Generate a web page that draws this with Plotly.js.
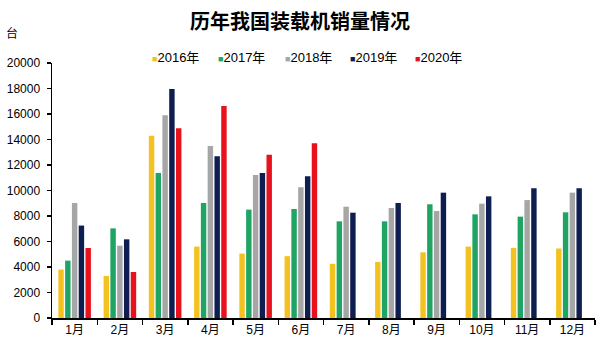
<!DOCTYPE html>
<html><head><meta charset="utf-8">
<script src="https://cdn.plot.ly/plotly-3.0.1.min.js"></script>
<style>html,body{margin:0;padding:0;background:#fff}#chart{width:600px;height:358px}</style>
</head><body><div id="chart"></div>
<script>
const months = ['1月','2月','3月','4月','5月','6月','7月','8月','9月','10月','11月','12月'];
const seriesNames = ['2016年','2017年','2018年','2019年','2020年'];
const s2016 = [3800, 3300, 14300, 5600, 5050, 4850, 4250, 4400, 5150, 5600, 5500, 5450];
const s2017 = [4500, 7030, 11370, 9020, 8500, 8550, 7580, 7580, 8920, 8130, 7950, 8290];
const s2018 = [9020, 5670, 15900, 13490, 11220, 10250, 8730, 8630, 8390, 8970, 9250, 9830];
const s2019 = [7250, 6170, 17960, 12680, 11370, 11110, 8260, 9020, 9830, 9540, 10170, 10170];
const s2020 = [5490, 3610, 14880, 16630, 12810, 13700, null, null, null, null, null, null];
const colors = ['#F3C221', '#1FA463', '#A6A6A6', '#0E1E50', '#E8121C'];
const allSeries = [s2016, s2017, s2018, s2019, s2020];

const traces = allSeries.map((vals, i) => ({
  type: 'bar', name: seriesNames[i], x: months, y: vals,
  marker: {color: colors[i], line: {width: 0}}
}));

const W = 600, H = 358;
const legendX = [150, 216, 283, 348, 413];
const legendAnn = seriesNames.map((n, i) => ({
  text: '<span style="color:' + colors[i] + ';font-size:9px">■</span>' + n,
  xref: 'paper', yref: 'paper', x: (legendX[i] - 52) / 543, y: 1 + (63 - 57) / 255,
  xanchor: 'left', yanchor: 'middle', showarrow: false,
  font: {size: 13, family: 'Liberation Sans, Noto Sans CJK SC', color: '#000'}
}));

const layout = {
  width: W, height: H,
  margin: {l: 52, r: 5, t: 63, b: 40},
  paper_bgcolor: '#fff', plot_bgcolor: '#fff',
  font: {family: 'Liberation Sans, Arial, sans-serif', size: 12, color: '#000'},
  title: {text: '历年我国装载机销量情况', x: 0.5, xanchor: 'center', y: 1 - 22 / H, yanchor: 'middle',
    font: {family: 'Noto Sans CJK SC', size: 20, color: '#000', weight: 'bold'}},
  barmode: 'group', bargap: 0.25, bargroupgap: 0.2,
  showlegend: false,
  xaxis: {type: 'category', showline: true, linecolor: '#000', linewidth: 1.5,
    ticks: 'outside', tickson: 'boundaries', ticklen: 5, tickcolor: '#000', tickwidth: 1.5,
    showgrid: false, zeroline: false, tickfont: {size: 12, family: 'Liberation Sans, Noto Sans CJK SC'}},
  yaxis: {range: [0, 20000], dtick: 2000, tickformat: 'd', showline: true, linecolor: '#000', linewidth: 1.5,
    ticks: 'outside', ticklen: 4, tickcolor: '#000', tickwidth: 1.5, ticklabelstandoff: 4,
    showgrid: false, zeroline: false, tickfont: {size: 12}},
  annotations: [{text: '台', xref: 'paper', yref: 'paper', x: -40 / 543, y: 1 + 30 / 255, xanchor: 'center', yanchor: 'middle',
    showarrow: false, font: {size: 12, family: 'Noto Sans CJK SC'}}].concat(legendAnn)
};
Plotly.newPlot('chart', traces, layout, {displayModeBar: false, staticPlot: true});
</script></body></html>
